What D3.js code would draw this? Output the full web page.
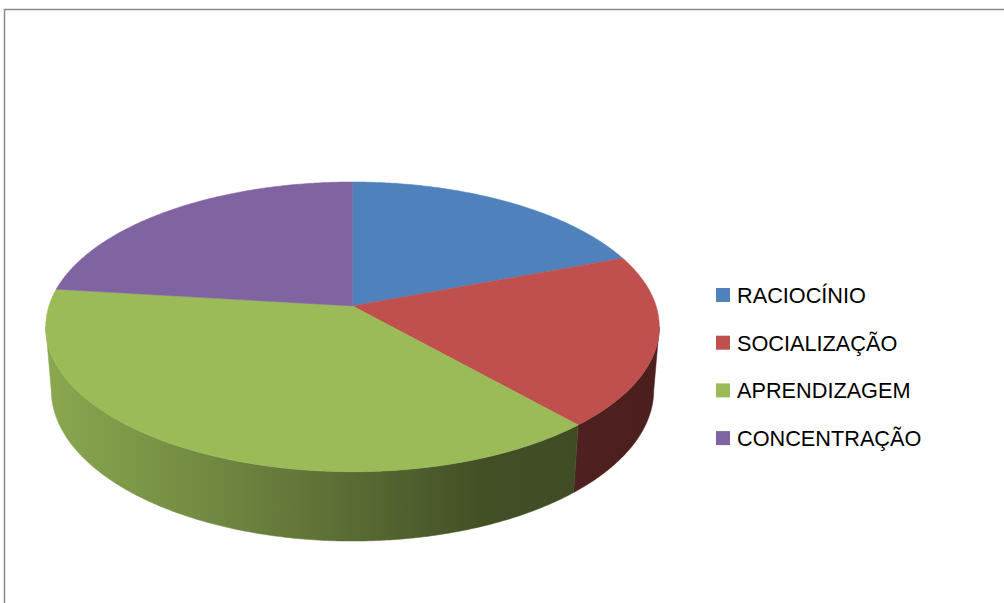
<!DOCTYPE html>
<html><head><meta charset="utf-8">
<script src="https://cdn.jsdelivr.net/npm/d3@7/dist/d3.min.js"></script>
<style>html,body{margin:0;padding:0;background:#fff;overflow:hidden}</style>
</head><body>
<svg id="c" width="1004" height="603"></svg>
<script>
const categories = ["RACIOCÍNIO","SOCIALIZAÇÃO","APRENDIZAGEM","CONCENTRAÇÃO"];
const values = [5, 5, 10, 6];
const palette = ["#4F81BD","#C0504D","#9BBB59","#8064A2"];

const svg = d3.select("#c");
svg.append("rect").attr("x",4.5).attr("y",9.5).attr("width",1100).attr("height",700)
  .attr("fill","#fff").attr("stroke","#8a8a8a").attr("stroke-width",1.5);

const color = d3.scaleOrdinal().domain(categories).range(palette);

// perspective projection of a tilted disc
const cx=352.5, cy=306, f=1866, D=6.146, sa=0.4673, ca=Math.sqrt(1-sa*sa), depth=0.237;
function proj(phi, y){
  const X=Math.sin(phi), Z=Math.cos(phi);
  const xc=X, yc=Z*sa + y*ca, zc=D + Z*ca - y*sa;
  return [cx + f*xc/zc, cy - f*yc/zc];
}
const phiL = Math.acos(-ca/D), phiR = 2*Math.PI - phiL;

const arcs = d3.pie().sort(null).value(d=>d)(values);

// gradients for side walls
const defs = svg.append("defs");
const shade = [[0.0,0.90],[0.023,0.88],[0.283,0.72],[0.495,0.58],[0.707,0.43],[0.919,0.40],[1,0.39]];
categories.forEach((c,i)=>{
  const g = defs.append("linearGradient").attr("id","side"+i)
    .attr("gradientUnits","userSpaceOnUse").attr("x1",46).attr("x2",660).attr("y1",0).attr("y2",0);
  const base = d3.rgb(color(c));
  shade.forEach(([o,k])=>{
    g.append("stop").attr("offset",o)
      .attr("stop-color", d3.rgb(base.r*k, base.g*k, base.b*k).formatHex());
  });
});

function arcPts(a0,a1,y){
  const n = Math.max(2, Math.ceil((a1-a0)/0.01));
  const pts=[];
  for(let j=0;j<=n;j++){ pts.push(proj(a0+(a1-a0)*j/n, y)); }
  return pts;
}
const line = d3.line();

// sides
arcs.forEach((a,i)=>{
  const a0 = Math.max(a.startAngle, phiL), a1 = Math.min(a.endAngle, phiR);
  if(a1<=a0) return;
  const top = arcPts(a0,a1,0), bot = arcPts(a0,a1,-depth).reverse();
  svg.append("path").attr("d", line(top.concat(bot))+"Z")
    .attr("fill","url(#side"+i+")").attr("stroke","url(#side"+i+")").attr("stroke-width",0.5);
});
// tops
arcs.forEach((a,i)=>{
  const pts = [[cx,cy]].concat(arcPts(a.startAngle,a.endAngle,0));
  svg.append("path").attr("d", line(pts)+"Z")
    .attr("fill",color(categories[i])).attr("stroke",color(categories[i])).attr("stroke-width",0.5);
});

// legend
const lg = svg.append("g");
const ly = d3.scalePoint().domain(categories).range([0, 3*47.7]);
categories.forEach(c=>{
  lg.append("rect").attr("x",716).attr("y",288+ly(c)).attr("width",14).attr("height",14).attr("fill",color(c));
  lg.append("text").attr("x",737).attr("y",303+ly(c)).text(c)
    .attr("font-family","Liberation Sans, Arial, sans-serif").attr("font-size",21.7).attr("fill","#000");
});
</script>
</body></html>
